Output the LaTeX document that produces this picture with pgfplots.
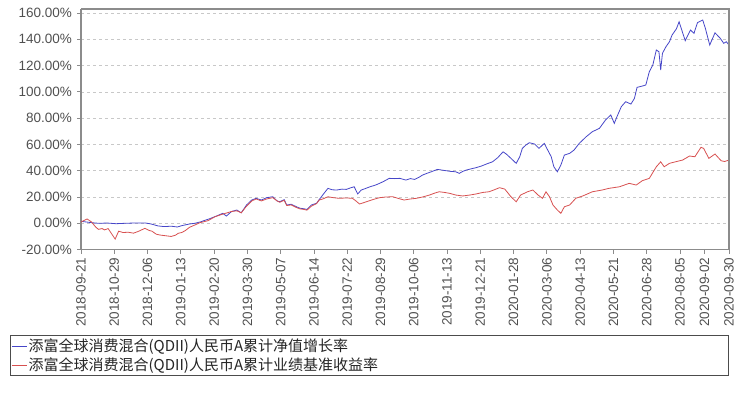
\documentclass[border=0pt]{standalone}
\usepackage{pgfplots}
\pgfplotsset{compat=1.18}
\usepackage{fontspec}
\setmainfont{Liberation Sans}
\newfontfamily\cjk{Noto Sans CJK SC}
\definecolor{fundblue}{RGB}{70,70,200}
\definecolor{benchred}{RGB}{215,80,80}
\definecolor{axgray}{RGB}{140,140,140}
\definecolor{gridgray}{RGB}{200,200,200}
\definecolor{labgray}{RGB}{80,80,80}
\begin{document}
\begin{tikzpicture}
\useasboundingbox (0pt,0pt) rectangle (750pt,394pt);
\begin{axis}[
  at={(81pt,144.4pt)}, anchor=south west,
  scale only axis, width=648pt, height=240.6pt,
  xmin=0, xmax=740, ymin=-20, ymax=163,
  axis line style={axgray, line width=1.1pt},
  axis x line*=bottom, axis y line*=left,
  clip=false,
  xtick={0,38,76,114,152,190,228,266,304,342,380,418,456,494,532,570,608,646,684,712,740},
  xticklabels={2018-09-21,2018-10-29,2018-12-06,2019-01-13,2019-02-20,2019-03-30,2019-05-07,2019-06-14,2019-07-22,2019-08-29,2019-10-06,2019-11-13,2019-12-21,2020-01-28,2020-03-06,2020-04-13,2020-05-21,2020-06-28,2020-08-05,2020-09-02,2020-09-30},
  x tick label style={rotate=90, anchor=east, font=\fontsize{13.5}{14}\selectfont, text=labgray, inner sep=1pt},
  ytick={-20,0,20,40,60,80,100,120,140,160},
  yticklabels={-20.00\%,0.00\%,20.00\%,40.00\%,60.00\%,80.00\%,100.00\%,120.00\%,140.00\%,160.00\%},
  y tick label style={font=\fontsize{13.5}{14}\selectfont, text=labgray, inner sep=1pt},
  xticklabel shift=3pt, yticklabel shift=4pt,
  tick align=outside, major tick length=4pt,
  tick style={axgray, line width=0.8pt},
  ymajorgrids, grid style={gridgray, dashed, line width=0.6pt},
  legend image code/.code={\draw[#1] (0pt,0pt) -- (15pt,0pt);},
  legend style={at={(axis description cs:-0.1096,-0.3565)}, anchor=north west,
    draw=black!70, line width=0.8pt, inner xsep=1pt, inner ysep=1.5pt,
    font=\cjk\fontsize{15}{16}\selectfont, text=black!85,
    nodes={inner sep=1.5pt}, row sep=2pt, column sep=0pt},
  legend cell align=left,
]
\addplot[fundblue, line width=0.8pt] coordinates {
(0,1.5)(6,1)(12,0.5)(20,0)(30,0.2)(40,-0.3)(50,0)(60,0.2)(73,0.3)(80,-0.5)(88,-2)(95,-2.5)(103,-2.2)(110,-2.8)(115,-1.8)(124,-0.5)(130,0)(136,1)(147,3.5)(155,5.6)(162,7.6)(166,5.5)(172,9)(178,10.1)(183,8)(189,13.9)(195,17.7)(200,19)(206,17.7)(212,19.5)(219,20.2)(224,17)(227,16.4)(232,18)(235,13.9)(240,14.5)(246,12.6)(250,11.5)(255,11)(258,10.5)(263,13.9)(269,15.2)(272,18)(276,21.5)(282,26.6)(287,25.5)(292,25.3)(298,26)(303,25.8)(308,27)(312,27.8)(316,22.3)(320,25.3)(325,26.5)(330,27.8)(336,29)(341,30.4)(346,32)(352,34.2)(358,34)(364,34.2)(371,32.9)(376,34)(381,33.4)(386,35)(390,36.7)(395,38)(400,39.2)(407,41)(412,40.5)(417,40)(422,39.5)(428,39.2)(432,38)(436,39.5)(440,40.5)(446,41.5)(451,42.3)(457,43.5)(463,45.1)(470,46.8)(476,50)(482,54.4)(486,52.5)(491,49.4)(497,45.6)(501,50.6)(504,57)(508,59.5)(512,61.3)(518,60.3)(523,57)(529,60.8)(533,55.7)(537,50.6)(540,43)(544,39.2)(548,44.3)(552,51.9)(558,53.2)(563,55.7)(569,60.8)(577,65.9)(584,69.7)(592,72.2)(599,78.6)(605,82.4)(609,76)(612,81)(617,88.7)(622,92.5)(628,90.7)(632,95)(635,103.4)(641,104.4)(645,105.2)(649,115.3)(653,120.4)(657,131.8)(660,130.5)(662,116.6)(664,129.3)(668,134.3)(672,138.1)(675,143.2)(680,148)(683,153.3)(690,138.9)(696,147)(700,144.5)(704,152.6)(710,154.6)(713,148.3)(718,135.6)(724,144.9)(730,140.7)(734,136.9)(737,138.1)(740,135.6)
};
\addlegendentry{\makebox[697pt][l]{添富全球消费混合(QDII)人民币A累计净值增长率}}
\addplot[benchred, line width=0.8pt] coordinates {
(0,1)(7,3.3)(12,1)(17,-3)(20,-4.6)(24,-4)(27,-5)(31,-4)(35,-8)(39,-12)(43,-6)(48,-7)(54,-6.8)(60,-7.5)(66,-6)(73,-3.8)(78,-5.5)(81,-6)(86,-8.3)(90,-8.9)(97,-9.5)(103,-10)(108,-9)(111,-7.6)(115,-7)(119,-5.6)(124,-3)(130,-1.3)(136,0.5)(145,2)(153,5)(162,7)(172,9)(178,9.5)(183,8)(189,13)(195,17)(200,18.5)(206,17)(212,18.5)(219,19.5)(224,17)(227,16)(232,17.5)(235,13.5)(240,14)(246,12)(250,11)(255,10.5)(258,10)(263,13)(269,15)(272,17.7)(276,18.5)(282,20.2)(288,19.5)(295,19)(303,19.3)(310,19)(314,17)(318,14.7)(322,15.5)(326,16.4)(333,18)(341,19.5)(348,20)(356,20.2)(362,19)(369,17.7)(376,18.5)(383,19)(390,20)(398,21.5)(404,23)(409,24)(415,23.5)(421,22.8)(428,21.5)(436,20.8)(444,21.5)(451,22.3)(459,23.5)(466,24)(472,25.5)(478,27.1)(484,26)(491,20.2)(497,16.4)(502,21.5)(510,24)(516,25.3)(522,21.5)(527,19)(531,24)(535,20.2)(539,13.9)(544,10.1)(548,7.6)(552,12.6)(558,13.9)(565,19)(573,20.8)(584,24)(595,25.3)(603,26.6)(615,27.8)(626,30.4)(634,29.1)(641,32.4)(649,34.2)(657,43)(662,46.8)(666,43)(672,45.6)(679,46.8)(687,48.1)(695,51.2)(701,50.6)(708,57.8)(711,57)(717,49.4)(724,52.7)(731,47.6)(735,47)(740,48.1)
};
\addlegendentry{\makebox[697pt][l]{添富全球消费混合(QDII)人民币A累计业绩基准收益率}}
\draw[axgray, line width=1.1pt] (axis cs:0,163) -- (axis cs:740,163) -- (axis cs:740,-20);
\end{axis}
\end{tikzpicture}
\end{document}
